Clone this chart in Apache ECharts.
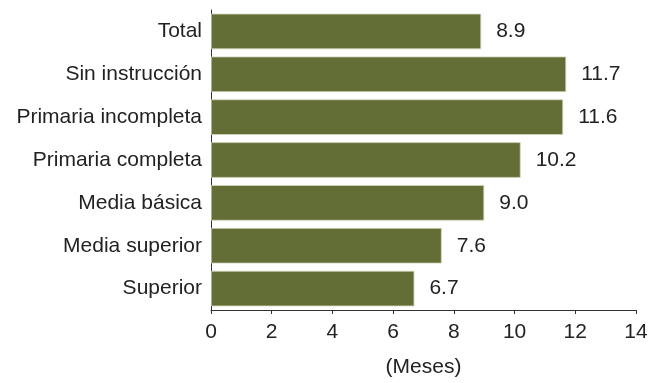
<!DOCTYPE html>
<html>
<head>
<meta charset="utf-8">
<script src="https://cdn.jsdelivr.net/npm/echarts@6/dist/echarts.min.js"></script>
<style>html,body{margin:0;padding:0;background:#fff;}#c{width:657px;height:383px;}</style>
</head>
<body>
<div id="c"></div>
<script>
const categories = ['Total', 'Sin instrucción', 'Primaria incompleta', 'Primaria completa', 'Media básica', 'Media superior', 'Superior'];
const values = [8.9, 11.7, 11.6, 10.2, 9.0, 7.6, 6.7];
const xTicks = [0, 2, 4, 6, 8, 10, 12, 14];
const xName = '(Meses)';

const chart = echarts.init(document.getElementById('c'));
const font = '"Liberation Sans", Arial, sans-serif';
chart.setOption({
  animation: false,
  grid: { left: 211, right: 21, top: 10, bottom: 69 },
  xAxis: {
    type: 'value', min: xTicks[0], max: xTicks[xTicks.length - 1], interval: 2,
    name: xName, nameLocation: 'middle', nameGap: 47,
    nameTextStyle: { fontFamily: font, fontSize: 21, color: '#222' },
    axisLine: { show: true, lineStyle: { color: '#333', width: 1 } },
    axisTick: { show: true, length: 4, lineStyle: { color: '#333' } },
    axisLabel: { fontFamily: font, fontSize: 21, color: '#222', margin: 12 },
    splitLine: { show: false }
  },
  yAxis: {
    type: 'category', data: categories, inverse: true,
    axisLine: { show: true, lineStyle: { color: '#333', width: 1 } },
    axisTick: { show: false },
    axisLabel: { fontFamily: font, fontSize: 21, color: '#222', margin: 9 }
  },
  series: [{
    type: 'bar', data: values, barCategoryGap: '17%',
    itemStyle: { color: '#626e35', borderColor: '#d4d6bc', borderWidth: 0.8 },
    label: {
      show: true, position: 'right', distance: 15,
      fontFamily: font, fontSize: 21, color: '#222',
      formatter: p => p.value.toFixed(1)
    }
  }]
});
</script>
</body>
</html>
